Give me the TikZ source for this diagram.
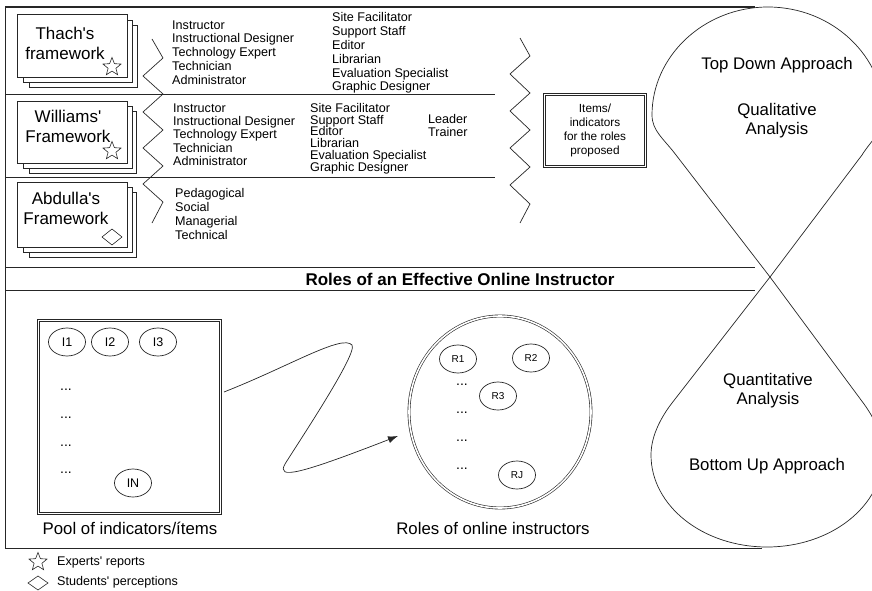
\documentclass[tikz,border=0pt]{standalone}
\usepackage{fontspec}
\setmainfont{Liberation Sans}
\usetikzlibrary{shapes.geometric,arrows.meta}
\newcommand{\ap}{\textquotesingle}
\begin{document}
\begin{tikzpicture}[x=1pt,y=-1pt,
  ln/.style={line width=0.7pt, draw=black!85},
  card/.style={draw=black!85, line width=0.7pt, fill=white},
  title/.style={font=\fontsize{17}{20}\selectfont, align=center, inner sep=0},
  lst/.style={font=\fontsize{12.6}{13.8}\selectfont, align=left, anchor=north west, inner sep=0},
  big/.style={font=\fontsize{16.8}{19}\selectfont, align=center, inner sep=0},
  oval/.style={ellipse, draw=black!85, line width=0.7pt, minimum width=37pt, minimum height=28pt, inner sep=0},
  ivtext/.style={font=\fontsize{12.5}{13}\selectfont},
  rvtext/.style={font=\fontsize{10}{11}\selectfont},
  dots/.style={font=\fontsize{14}{14}\selectfont, inner sep=0},
  starmark/.style={star, star points=5, star point ratio=2.3, draw=black!85, line width=0.6pt, minimum size=19pt, inner sep=0},
  dbl/.style={draw=black!85, line width=0.6pt, double=white, double distance=1.6pt},
  legtext/.style={anchor=west, font=\fontsize{12.6}{13}\selectfont, inner sep=0}
]
\useasboundingbox (0,0) rectangle (872,591);
\clip (0,0) rectangle (872,591);

% outer frame and dividers
\draw[line width=1.3pt, draw=black!85] (5,7) -- (755,7);
\draw[ln] (5,7) -- (5,548) -- (762,548);
\draw[ln] (5,94) -- (495,94);
\draw[ln] (5,177) -- (495,177);
\draw[ln] (5,267) -- (755,267);
\draw[ln] (5,290) -- (755,290);

% teardrops
\draw[ln] (770,277) -- (676,155) .. controls (664,139) and (652,131) .. (652,115)
  .. controls (652,56) and (704,7) .. (768,7)
  .. controls (832,7) and (884,56) .. (884,115)
  .. controls (884,131) and (872,139) .. (862,155) -- cycle;
\draw[ln] (770,277) -- (672,403) .. controls (662,416) and (651,435) .. (651,455)
  .. controls (651,506) and (703,547) .. (767,547)
  .. controls (831,547) and (883,506) .. (883,455)
  .. controls (883,435) and (874,418) .. (864,404) -- cycle;

% framework cards
\draw[card] (29,25) rectangle (137,87);
\draw[card] (23,20) rectangle (132,82);
\draw[card] (17,14) rectangle (127,77);
\node[title] (thach) at (65,43) {Thach\ap s\\framework};
\node[starmark] (thachstar) at (112,67) {};

\draw[card] (29,111) rectangle (136,173);
\draw[card] (23,106) rectangle (132,168);
\draw[card] (17,101) rectangle (127,163);
\node[title] (williams) at (68,126) {Williams\ap\\Framework};
\node[starmark] (williamsstar) at (112,151) {};

\draw[card] (29,192) rectangle (136,257);
\draw[card] (23,187) rectangle (132,252);
\draw[card] (17,182) rectangle (127,247);
\node[title] (abdulla) at (66,208) {Abdulla\ap s\\Framework};
\draw[ln, line width=0.6pt, shift={(112,237)}] (-10,0) -- (0,-8) -- (10,0) -- (0,8) -- cycle;

% zigzags
\draw[ln] (152,39) -- (163,58) -- (143,76) -- (163,94) -- (143,112) -- (163,130) -- (143,148) -- (163,166) -- (143,184) -- (163,202) -- (152,223);
\draw[ln] (520,38) -- (530,56) -- (510,74) -- (530,93) -- (510,111) -- (530,130) -- (510,148) -- (530,167) -- (510,185) -- (530,204) -- (520,223);

% role lists
\node[lst] (t1) at (172,20.3) {Instructor\\Instructional Designer\\Technology Expert\\Technician\\Administrator};
\node[lst] (t2) at (332,12.6) {Site Facilitator\\Support Staff\\Editor\\Librarian\\Evaluation Specialist\\Graphic Designer};
\node[lst, font=\fontsize{12.6}{13.3}\selectfont] (w1) at (173,103.3) {Instructor\\Instructional Designer\\Technology Expert\\Technician\\Administrator};
\node[lst, font=\fontsize{12.6}{11.9}\selectfont] (w2) at (310,102.8) {Site Facilitator\\Support Staff\\Editor\\Librarian\\Evaluation Specialist\\Graphic Designer};
\node[lst, font=\fontsize{12.6}{13.3}\selectfont] (w3) at (428,114.3) {Leader\\Trainer};
\node[lst, font=\fontsize{12.6}{14}\selectfont] (a1) at (175,188.3) {Pedagogical\\Social\\Managerial\\Technical};

% items box
\node[dbl, minimum width=101pt, minimum height=72pt, align=center, font=\fontsize{11.8}{14}\selectfont, inner sep=0] (items) at (595,130.5) {Items/\\indicators\\for the roles\\proposed};

% drop texts
\node[big] (topdown) at (777,65) {Top Down Approach};
\node[big] (quali) at (777,121) {Qualitative\\Analysis};
\node[big] (quanti) at (768,391) {Quantitative\\Analysis};
\node[big] (bottomup) at (767,466) {Bottom Up Approach};

% band title
\node[font=\bfseries\fontsize{17}{19}\selectfont, inner sep=0] (band) at (460,279) {Roles of an Effective Online Instructor};

% pool of indicators
\node[dbl, minimum width=182pt, minimum height=193pt, inner sep=0] (pool) at (129.5,417) {};
\node[oval, ivtext] (i1) at (67,342) {I1};
\node[oval, ivtext] (i2) at (110,342) {I2};
\node[oval, ivtext] (i3) at (158,342) {I3};
\node[oval, ivtext] (in) at (133,483) {IN};
\foreach \yy in {390,418,446,473} \node[dots] at (66,\yy) {...};
\node[big] (poollabel) at (130,528) {Pool of indicators/ítems};

% roles of online instructors
\node[ellipse, dbl, minimum width=182pt, minimum height=192pt, inner sep=0] (roles) at (500,412) {};
\node[oval, rvtext] (r1) at (458,359) {R1};
\node[oval, rvtext] (r2) at (531,358) {R2};
\node[oval, rvtext] (r3) at (498,396) {R3};
\node[oval, rvtext] (rj) at (517,475) {RJ};
\foreach \yy in {385,413,441,469} \node[dots] at (462,\yy) {...};
\node[big] (roleslabel) at (493,528) {Roles of online instructors};

% squiggle arrow
\coordinate (sq0) at (224,392);
\coordinate (sq1) at (398,436);
\draw[ln, -{Latex[length=10pt,width=7pt]}] (sq0) .. controls (290,366) and (342,334) .. (352,345)
  .. controls (358,353) and (300,440) .. (285,464)
  .. controls (276,480) and (300,474) .. (sq1);

% legend
\node[starmark] (legstar) at (38,562) {};
\node[legtext] (legexp) at (57,562) {Experts\ap\ reports};
\draw[ln, line width=0.6pt, shift={(38,583)}] (-10,0) -- (0,-7) -- (10,0) -- (0,7) -- cycle;
\node[legtext] (legstu) at (57,582) {Students\ap\ perceptions};
\end{tikzpicture}
\end{document}
